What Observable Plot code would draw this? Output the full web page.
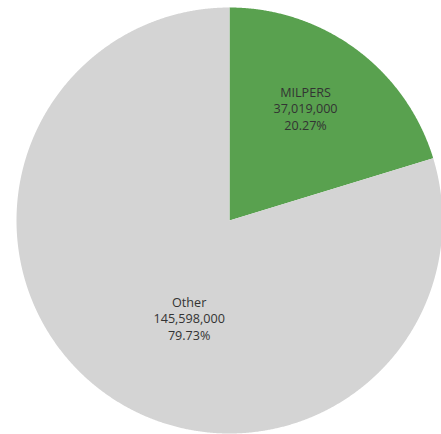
<!DOCTYPE html>
<html>
<head>
<meta charset="utf-8">
<script src="https://cdn.jsdelivr.net/npm/d3@7"></script>
<script src="https://cdn.jsdelivr.net/npm/@observablehq/plot@0.6"></script>
<style>
  html, body { margin: 0; padding: 0; background: #fff; }
  #chart svg { display: block; }
</style>
</head>
<body>
<div id="chart"></div>
<script>
// Data
const categories = ["MILPERS", "Other"];
const values = [37019000, 145598000];
const colors = ["#59A14F", "#D4D4D4"];

const W = 441, H = 434;
const cx = 229, cy = 220, R = 213;

const total = d3.sum(values);
const pie = d3.pie().sort(null).value(d => d)(values);

// Build polygon points for each slice (angles clockwise from 12 o'clock)
const slicePts = [];
pie.forEach((p, i) => {
  const n = Math.max(8, Math.ceil((p.endAngle - p.startAngle) / (Math.PI / 720)));
  slicePts.push({cat: categories[i], x: 0, y: 0});
  for (let k = 0; k <= n; k++) {
    const a = p.startAngle + (p.endAngle - p.startAngle) * k / n;
    slicePts.push({cat: categories[i], x: Math.sin(a), y: Math.cos(a)});
  }
});

const labels = pie.map((p, i) => {
  const mid = (p.startAngle + p.endAngle) / 2;
  const r = i === 0 ? 0.6 : 0.5;
  return {
    cat: categories[i],
    x: r * Math.sin(mid),
    y: r * Math.cos(mid),
    text: `${categories[i]}\n${d3.format(",")(values[i])}\n${d3.format(".2%")(values[i] / total)}`
  };
});

const chart = Plot.plot({
  width: W,
  height: H,
  margin: 0,
  x: {domain: [-cx / R, (W - cx) / R], axis: null},
  y: {domain: [-(H - cy) / R, cy / R], axis: null},
  color: {domain: categories, range: colors},
  style: {fontFamily: "'Open Sans', sans-serif"},
  marks: [
    Plot.line(slicePts, {x: "x", y: "y", z: "cat", fill: "cat", stroke: "none", curve: "linear-closed"}),
    Plot.text(labels.filter(d => d.cat === "MILPERS"), {x: "x", y: "y", text: "text", dy: -10, fontSize: 12.6, lineHeight: 1.31, fill: "#333"}),
    Plot.text(labels.filter(d => d.cat === "Other"), {x: "x", y: "y", text: "text", dx: 23, dy: 12, fontSize: 12.6, lineHeight: 1.31, fill: "#333"})
  ]
});
document.getElementById("chart").appendChild(chart);
</script>
</body>
</html>
